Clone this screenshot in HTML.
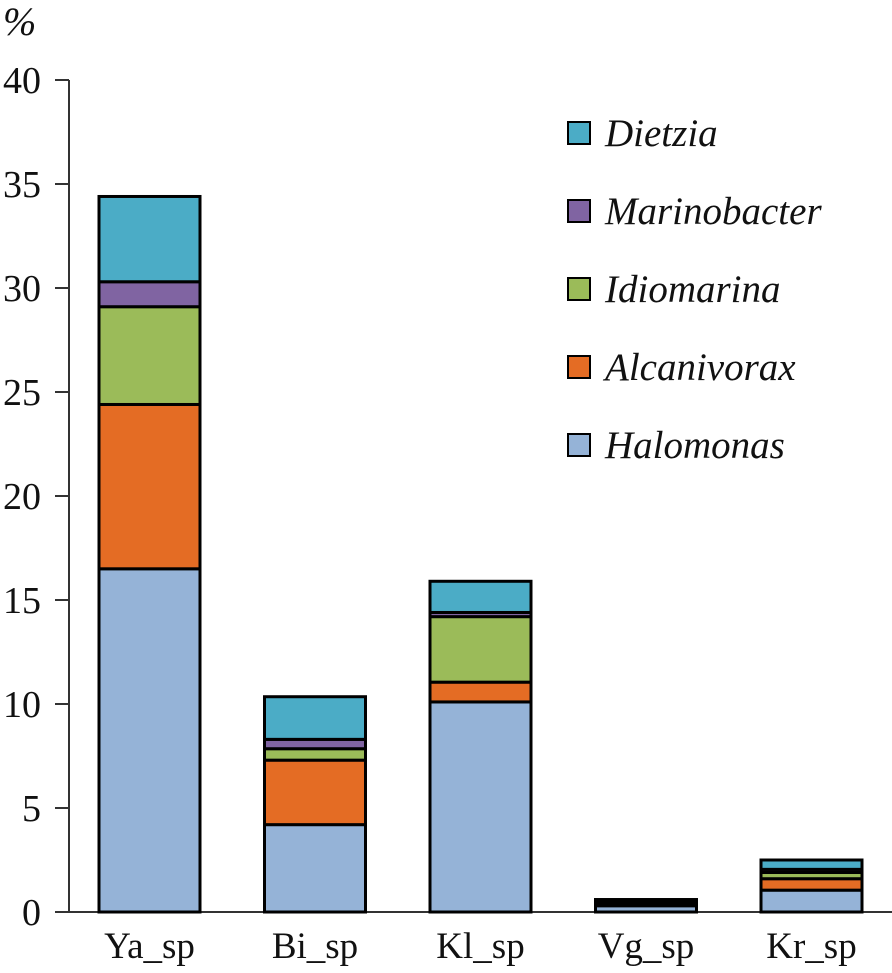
<!DOCTYPE html>
<html><head><meta charset="utf-8"><style>
html,body{margin:0;padding:0;background:#fff;}
svg{display:block;font-family:"Liberation Serif",serif;}
</style></head><body>
<svg id="chart" width="892" height="973" viewBox="0 0 892 973"></svg>
<script>
const categories=["Ya_sp","Bi_sp","Kl_sp","Vg_sp","Kr_sp"];
const seriesNames=["Halomonas","Alcanivorax","Idiomarina","Marinobacter","Dietzia"];
const halomonas=[16.5,4.2,10.1,0.3,1.05];
const alcanivorax=[7.9,3.1,0.95,0.0,0.55];
const idiomarina=[4.7,0.55,3.15,0.0,0.3];
const marinobacter=[1.2,0.45,0.2,0.0,0.15];
const dietzia=[4.1,2.05,1.5,0.3,0.45];
const yTicks=[0,5,10,15,20,25,30,35,40];
const colors=["#95b3d7","#e46c24","#9bbb59","#8064a2","#4bacc6"];
const series=[halomonas,alcanivorax,idiomarina,marinobacter,dietzia];
const NS="http://www.w3.org/2000/svg";
const svg=document.getElementById("chart");
const y0=912,yTop=80,yMax=40,axisX=69;
function y(v){return y0-(v/yMax)*(y0-yTop);}
const firstX=99,step=165.5,barW=101;
function xb(i){return firstX+i*step;}
function mk(tag,attrs){const e=document.createElementNS(NS,tag);for(const k in attrs)e.setAttribute(k,attrs[k]);svg.appendChild(e);return e;}
let e=mk("line",{x1:axisX,y1:yTop,x2:axisX,y2:y0,stroke:"#333","stroke-width":2});


e=mk("line",{x1:55,y1:y0,x2:892,y2:y0,stroke:"#333","stroke-width":2});


yTicks.forEach(t=>{
  const l=mk("line",{x1:55,y1:y(t),x2:axisX,y2:y(t),stroke:"#333","stroke-width":2});
  
  
  const tx=mk("text",{x:41,y:y(t)+13,"text-anchor":"end","font-size":38,fill:"#111"});
  tx.textContent=t;
  
  
});
let pct=mk("text",{x:3,y:35,"font-size":40,"font-style":"italic",fill:"#111"});
pct.textContent="%";


categories.forEach((c,i)=>{
  let acc=0;
  series.forEach((s,j)=>{
    const v=s[i];
    if(v<=0)return;
    const r=mk("rect",{x:xb(i),y:y(acc+v),width:barW,height:y(acc)-y(acc+v),fill:(i===3&&j===4)?"#000":colors[j],stroke:"#000","stroke-width":3});
    
    
    acc+=v;
  });
  const t=mk("text",{x:xb(i)+barW/2,y:958,"text-anchor":"middle","font-size":37,fill:"#111"});
  t.textContent=c;
  
  
});
for(let k=0;k<5;k++){
  const j=4-k;const cy=133+k*78;
  const r=mk("rect",{x:568,y:cy-11,width:22,height:22,fill:colors[j],stroke:"#000","stroke-width":2});
  
  
  const t=mk("text",{x:605,y:cy+13,"font-size":39,"font-style":"italic",fill:"#111"});
  t.textContent=seriesNames[j];
  
  
}
</script>
</body></html>
